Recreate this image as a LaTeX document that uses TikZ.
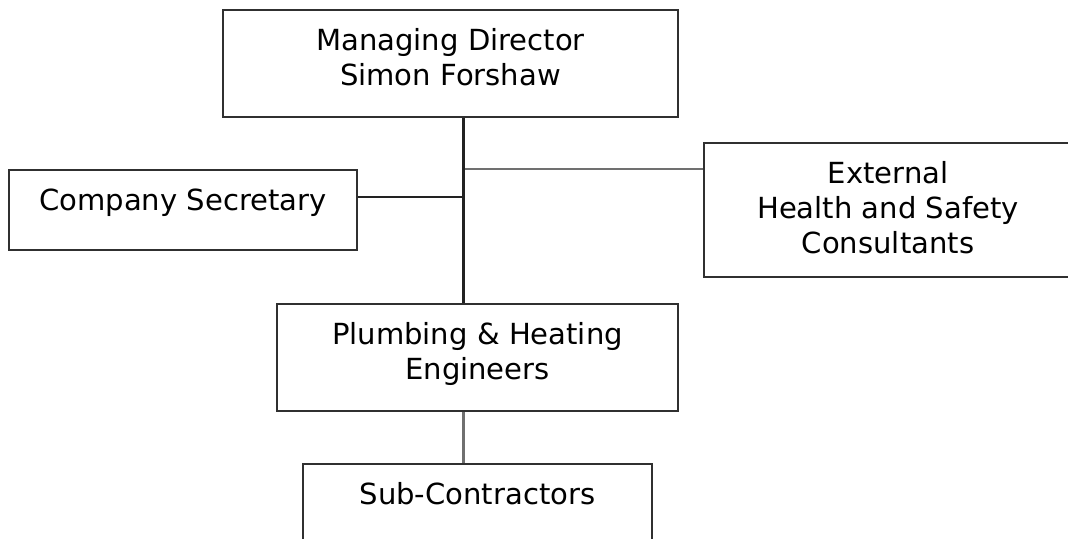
\documentclass[tikz,border=0pt]{standalone}
\usepackage{fontspec}
\setmainfont{DejaVu Sans}
\definecolor{bord}{HTML}{303030}
\definecolor{trunkc}{HTML}{222222}
\definecolor{greyc}{HTML}{707070}
\begin{document}
\begin{tikzpicture}[x=0.75pt,y=-0.75pt,
  box/.style={draw=bord, line width=1.7pt, inner sep=0pt, rectangle},
  txt/.style={inner sep=0pt, align=center, anchor=north,
    font={\fontsize{21.8pt}{26.25pt}\selectfont}},
  mainline/.style={draw=trunkc, line width=1.7pt},
  greyline/.style={draw=greyc, line width=1.9pt}]
\clip (0,0) rectangle (1068,539);
\fill[white] (0,0) rectangle (1068,539);
% boxes
\node[box, minimum width=341.25pt, minimum height=80.25pt] (md) at (450.5,63.5) {};
\node[box, minimum width=261pt, minimum height=60pt] (cs) at (183,210) {};
\node[box, minimum width=276pt, minimum height=100.5pt] (ext) at (888,210) {};
\node[box, minimum width=300.75pt, minimum height=80.25pt] (pl) at (477.5,357.5) {};
\node[box, minimum width=261.75pt, minimum height=80.25pt] (sub) at (477.5,517.5) {};
% texts
\node[txt, yshift=-10.75pt] (tmd) at (md.north) {\rule{0pt}{20pt}Managing Director\\Simon Forshaw};
\node[txt, yshift=-10.75pt] (tcs) at (cs.north) {\rule{0pt}{20pt}Company Secretary};
\node[txt, yshift=-10.75pt] (text) at (ext.north) {\rule{0pt}{20pt}External\\Health and Safety\\Consultants};
\node[txt, yshift=-10.75pt] (tpl) at (pl.north) {\rule{0pt}{20pt}Plumbing \& Heating\\Engineers};
\node[txt, yshift=-10.75pt] (tsub) at (sub.north) {\rule{0pt}{20pt}Sub-Contractors};
% junctions
\coordinate (j1) at (463.5,169);
\coordinate (j2) at (463.5,197);
% connectors
\draw[greyline] (j1) -- (ext.west |- j1);
\draw[greyline] (pl.south -| j1) -- (sub.north -| j1);
\draw[mainline] (md.south -| j1) -- (pl.north -| j1);
\draw[mainline] (cs.east |- j2) -- (j2);
\end{tikzpicture}
\end{document}
